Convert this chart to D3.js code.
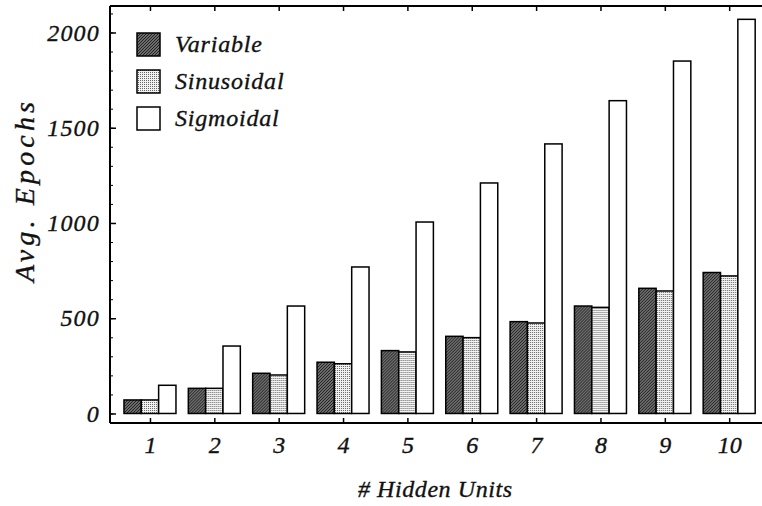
<!DOCTYPE html>
<html>
<head>
<meta charset="utf-8">
<script src="https://cdn.jsdelivr.net/npm/d3@7"></script>
<style>
  html, body { margin: 0; padding: 0; background: #fff; }
  svg { display: block; }
  text { font-family: "Liberation Serif", "Times New Roman", serif; font-style: italic; fill: #111; stroke: #111; stroke-width: 0.35px; }
</style>
</head>
<body>
<svg id="chart" width="762" height="506"></svg>
<script>
// ---- data ----
const hiddenUnits = [1, 2, 3, 4, 5, 6, 7, 8, 9, 10];
const seriesNames = ["Variable", "Sinusoidal", "Sigmoidal"];
const variableVals   = [71, 132, 211, 269, 330, 405, 482, 564, 657, 740];
const sinusoidalVals = [71, 132, 202, 261, 323, 398, 475, 557, 643, 722];
const sigmoidalVals  = [148, 354, 564, 769, 1005, 1210, 1415, 1642, 1850, 2069];
const yTickValues = [0, 500, 1000, 1500, 2000];
const yMinorTicks = d3.range(0, 2200, 100);
const xTitle = "# Hidden Units";
const yTitle = "Avg. Epochs";

const seriesValues = [variableVals, sinusoidalVals, sigmoidalVals];

// ---- layout ----
const svg = d3.select("#chart");
const pLeft = 110, pRight = 762, pTop = 6, pBottom = 423;

const x = d3.scaleLinear().domain([0.379, 10.51]).range([pLeft, pRight]);
const y = d3.scaleLinear().domain([-50, 2139]).range([pBottom, pTop]);
const inner = d3.scaleBand().domain(seriesNames).range([-26, 26]).padding(0);

// patterns
const defs = svg.append("defs");
const pv = defs.append("pattern").attr("id", "pVar").attr("patternUnits", "userSpaceOnUse")
  .attr("width", 3).attr("height", 3);
pv.append("rect").attr("width", 3).attr("height", 3).attr("fill", "#8c8c8c");
pv.append("path").attr("d", "M-1,1 L1,-1 M0,3 L3,0 M2,4 L4,2").attr("stroke", "#1c1c1c").attr("stroke-width", 1.1);

const ps = defs.append("pattern").attr("id", "pSin").attr("patternUnits", "userSpaceOnUse")
  .attr("width", 2).attr("height", 2);
ps.append("rect").attr("width", 2).attr("height", 2).attr("fill", "#f2f2f2");
ps.append("rect").attr("width", 1).attr("height", 1).attr("fill", "#666");

const fills = { "Variable": "url(#pVar)", "Sinusoidal": "url(#pSin)", "Sigmoidal": "#ffffff" };

// bars
const groups = svg.append("g").selectAll("g")
  .data(hiddenUnits)
  .join("g")
  .attr("transform", d => `translate(${x(d)},0)`);

groups.selectAll("rect")
  .data((d, i) => seriesNames.map((s, j) => ({ s, v: seriesValues[j][i] })))
  .join("rect")
  .attr("x", d => inner(d.s))
  .attr("width", inner.bandwidth())
  .attr("y", d => y(d.v))
  .attr("height", d => y(0) - y(d.v))
  .attr("fill", d => fills[d.s])
  .attr("stroke", "#000")
  .attr("stroke-width", 1.5);

// frame lines
const frame = svg.append("g").attr("stroke", "#000").attr("stroke-width", 2).attr("fill", "none");
frame.append("line").attr("x1", pLeft).attr("x2", pRight).attr("y1", pTop).attr("y2", pTop);
frame.append("line").attr("x1", pLeft).attr("x2", pRight).attr("y1", pBottom).attr("y2", pBottom);
frame.append("line").attr("x1", pLeft).attr("x2", pLeft).attr("y1", pTop).attr("y2", pBottom);

// x axis bottom
const xAxis = svg.append("g").attr("transform", `translate(0,${pBottom})`)
  .call(d3.axisBottom(x).tickValues(hiddenUnits).tickSizeInner(-5).tickSizeOuter(0).tickPadding(13).tickFormat(d3.format("d")));
xAxis.select(".domain").remove();
xAxis.selectAll("line").attr("stroke-width", 1.5);
xAxis.selectAll("text").style("font-size", "24px").attr("font-family", null);

// x axis top (ticks only)
const xTop = svg.append("g").attr("transform", `translate(0,${pTop})`)
  .call(d3.axisTop(x).tickValues(hiddenUnits).tickSizeInner(-5).tickSizeOuter(0).tickFormat(""));
xTop.select(".domain").remove();
xTop.selectAll("line").attr("stroke-width", 1.5);

// y axis minor ticks
const yMinor = svg.append("g").attr("transform", `translate(${pLeft},0)`)
  .call(d3.axisLeft(y).tickValues(yMinorTicks).tickSizeInner(-3).tickSizeOuter(0).tickFormat(""));
yMinor.select(".domain").remove();

// y axis major
const yAxis = svg.append("g").attr("transform", `translate(${pLeft},0)`)
  .call(d3.axisLeft(y).tickValues(yTickValues).tickSizeInner(-6).tickSizeOuter(0).tickPadding(10).tickFormat(d3.format("d")));
yAxis.select(".domain").remove();
yAxis.selectAll("line").attr("stroke-width", 1.5);
yAxis.selectAll("text").style("font-size", "24px").style("letter-spacing", "1.2px").attr("font-family", null);

// titles
svg.append("text").attr("x", 435).attr("y", 497).attr("text-anchor", "middle")
  .attr("textLength", 154).attr("lengthAdjust", "spacing")
  .style("font-size", "24px").text(xTitle);
svg.append("text").attr("transform", "translate(34,192) rotate(-90)").attr("text-anchor", "middle")
  .attr("textLength", 180).attr("lengthAdjust", "spacing")
  .style("font-size", "28px").text(yTitle);

// legend
const legend = svg.append("g");
seriesNames.forEach((s, i) => {
  const cy = 44 + i * 37;
  legend.append("rect").attr("x", 137).attr("y", cy - 11).attr("width", 23).attr("height", 23)
    .attr("fill", fills[s]).attr("stroke", "#000").attr("stroke-width", 1.5);
  legend.append("text").attr("x", 175).attr("y", cy + 8).style("font-size", "24px")
    .style("letter-spacing", "0.8px").text(s);
});
</script>
</body>
</html>
